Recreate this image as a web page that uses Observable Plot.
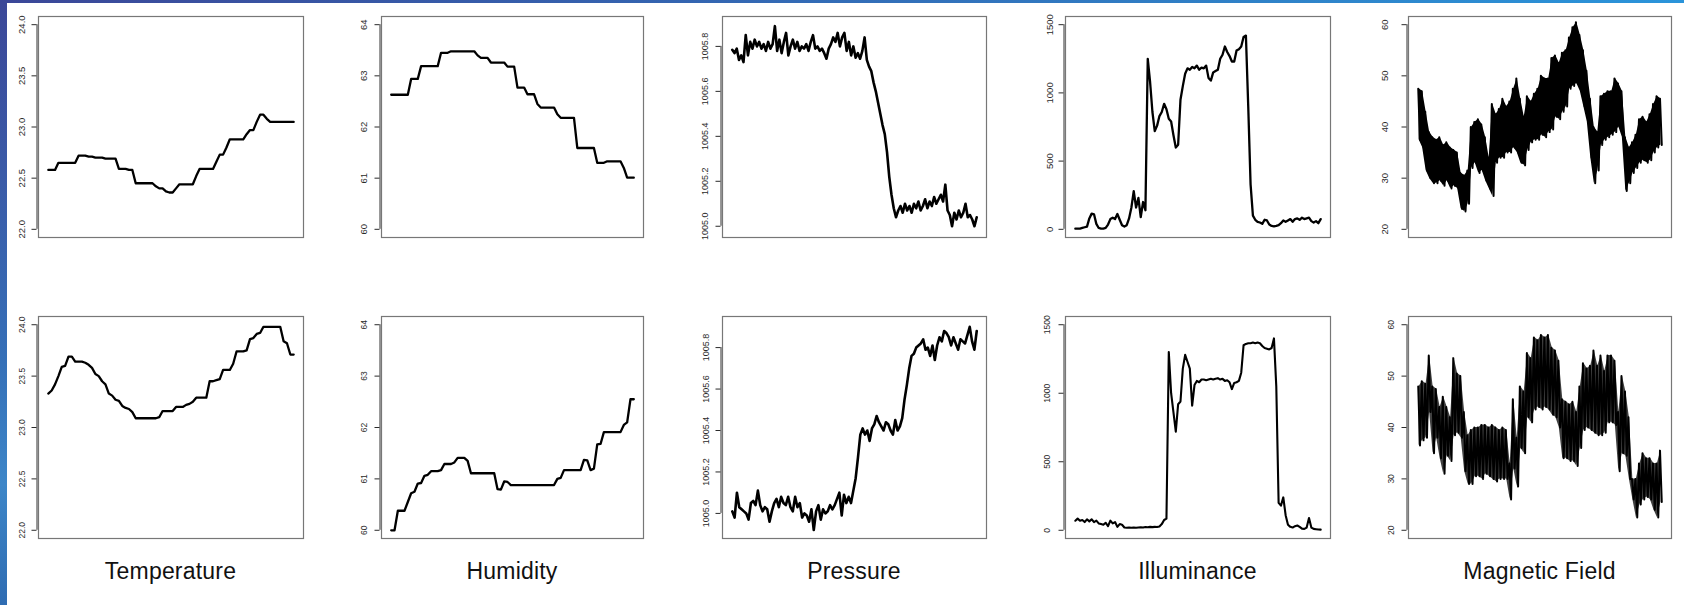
<!DOCTYPE html>
<html>
<head>
<meta charset="utf-8">
<script src="https://cdn.jsdelivr.net/npm/d3@7"></script>
<script src="https://cdn.jsdelivr.net/npm/@observablehq/plot@0.6"></script>
<style>
  html, body { margin: 0; padding: 0; background: #fff; }
  #page { position: relative; width: 1684px; height: 605px; overflow: hidden; background: #fff;
          font-family: "Liberation Sans", Arial, Helvetica, sans-serif; }
  #lstrip { position: absolute; left: 0; top: 0; width: 7px; height: 605px;
            background: linear-gradient(to bottom, #3b4798 0%, #3a5ba8 30%, #3570b8 60%, #3d86c8 80%, #2f6cb2 100%); }
  #tstrip { position: absolute; left: 0; top: 0; width: 1684px; height: 3px;
            background: linear-gradient(to right, #3b4798 0%, #3464b0 40%, #2f82c8 75%, #2a94da 100%); }
  .cap { position: absolute; top: 560px; font-size: 23px; line-height: 23px; color: #111;
         transform: translateX(-50%); white-space: nowrap; letter-spacing: 0.2px; }
</style>
</head>
<body>
<div id="page">
  <div id="lstrip"></div>
  <div id="tstrip"></div>
</div>
<script>
// ---------- data ----------
const captions = ["Temperature", "Humidity", "Pressure", "Illuminance", "Magnetic Field"];

// tick values per variable
const tempTicks = [22.0, 22.5, 23.0, 23.5, 24.0];
const humTicks = [60, 61, 62, 63, 64];
const presTicks = [1005.0, 1005.2, 1005.4, 1005.6, 1005.8];
const illumTicks = [0, 500, 1000, 1500];
const magTicks = [20, 30, 40, 50, 60];

// pressure axis limits (auto-ranged in the original)
const presTopLimits = [1004.950, 1005.933];
const presBotLimits = [1004.879, 1005.950];

const tempTop = [22.58,22.58,22.58,22.65,22.65,22.65,22.65,22.65,22.65,22.72,
 22.72,22.72,22.71,22.71,22.70,22.70,22.70,22.69,22.69,22.69,
 22.69,22.59,22.59,22.59,22.58,22.58,22.45,22.45,22.45,22.45,
 22.45,22.45,22.42,22.40,22.40,22.37,22.36,22.36,22.40,22.44,
 22.44,22.44,22.44,22.44,22.52,22.59,22.59,22.59,22.59,22.59,
 22.66,22.73,22.73,22.80,22.88,22.88,22.88,22.88,22.88,22.93,
 22.97,22.97,23.05,23.12,23.12,23.08,23.05,23.05,23.05,23.05,
 23.05,23.05,23.05,23.05];

const tempBot = [23.33,23.36,23.42,23.50,23.59,23.60,23.69,23.69,23.64,23.64,
 23.64,23.63,23.61,23.58,23.52,23.50,23.45,23.42,23.33,23.31,
 23.27,23.26,23.21,23.19,23.18,23.15,23.09,23.09,23.09,23.09,
 23.09,23.09,23.09,23.10,23.16,23.16,23.16,23.16,23.20,23.20,
 23.20,23.22,23.23,23.25,23.29,23.29,23.29,23.29,23.45,23.45,
 23.46,23.47,23.56,23.56,23.56,23.62,23.74,23.74,23.74,23.75,
 23.86,23.87,23.91,23.92,23.98,23.98,23.98,23.98,23.98,23.98,
 23.84,23.82,23.71,23.71];

const humTop = [62.63,62.63,62.63,62.63,62.63,62.63,62.94,62.94,62.94,63.19,
 63.19,63.19,63.19,63.19,63.19,63.45,63.45,63.45,63.48,63.48,
 63.48,63.48,63.48,63.48,63.48,63.48,63.40,63.35,63.35,63.35,
 63.26,63.26,63.26,63.26,63.26,63.18,63.18,63.18,62.77,62.77,
 62.77,62.64,62.64,62.64,62.45,62.38,62.38,62.38,62.38,62.38,
 62.25,62.18,62.18,62.18,62.18,62.18,61.59,61.59,61.59,61.59,
 61.59,61.59,61.30,61.30,61.30,61.33,61.33,61.33,61.33,61.33,
 61.20,61.01,61.01,61.01];

const humBot = [60.00,60.00,60.38,60.38,60.38,60.55,60.72,60.75,60.91,60.92,
 61.06,61.08,61.15,61.15,61.15,61.17,61.29,61.29,61.29,61.32,
 61.41,61.41,61.41,61.35,61.11,61.11,61.11,61.11,61.11,61.11,
 61.11,61.11,60.80,60.79,60.95,60.94,60.88,60.88,60.88,60.88,
 60.88,60.88,60.88,60.88,60.88,60.88,60.88,60.88,60.88,60.88,
 61.00,61.02,61.17,61.17,61.17,61.17,61.17,61.17,61.37,61.36,
 61.17,61.20,61.67,61.68,61.91,61.91,61.91,61.91,61.91,61.91,
 62.05,62.10,62.55,62.55];

const presTop = [1005.785,1005.77,1005.79,1005.74,1005.76,1005.73,1005.85,1005.76,1005.82,1005.79,
 1005.83,1005.80,1005.82,1005.79,1005.81,1005.78,1005.82,1005.79,1005.81,1005.89,
 1005.78,1005.83,1005.77,1005.82,1005.86,1005.76,1005.80,1005.83,1005.79,1005.82,
 1005.78,1005.80,1005.79,1005.81,1005.78,1005.82,1005.85,1005.79,1005.80,1005.78,
 1005.79,1005.77,1005.745,1005.79,1005.81,1005.84,1005.82,1005.86,1005.80,1005.84,
 1005.86,1005.78,1005.82,1005.76,1005.80,1005.75,1005.77,1005.745,1005.78,1005.84,
 1005.74,1005.71,1005.69,1005.64,1005.60,1005.55,1005.50,1005.45,1005.41,1005.33,
 1005.22,1005.14,1005.08,1005.04,1005.07,1005.09,1005.06,1005.10,1005.07,1005.09,
 1005.06,1005.10,1005.08,1005.11,1005.07,1005.09,1005.12,1005.08,1005.11,1005.09,
 1005.13,1005.10,1005.12,1005.14,1005.11,1005.185,1005.07,1005.05,1005.00,1005.06,
 1005.03,1005.07,1005.04,1005.06,1005.10,1005.04,1005.05,1005.03,1005.00,1005.04];

const presBot = [1005.01,1004.98,1005.10,1005.03,1005.02,1005.01,1005.00,1004.97,1005.05,1005.06,
 1005.04,1005.11,1005.04,1005.01,1005.03,1005.02,1004.96,1005.01,1005.05,1005.07,
 1005.03,1005.08,1005.05,1005.04,1005.08,1005.03,1005.01,1005.08,1005.03,1005.05,
 1004.98,1005.00,1004.99,1004.96,1005.02,1004.92,1005.01,1005.04,1004.97,1005.02,
 1005.00,1005.01,1005.04,1005.02,1005.04,1005.07,1005.10,1004.99,1005.09,1005.05,
 1005.08,1005.05,1005.11,1005.17,1005.27,1005.38,1005.41,1005.38,1005.40,1005.35,
 1005.41,1005.43,1005.47,1005.44,1005.42,1005.40,1005.44,1005.43,1005.40,1005.38,
 1005.45,1005.40,1005.42,1005.46,1005.55,1005.62,1005.70,1005.76,1005.77,1005.80,
 1005.81,1005.82,1005.84,1005.79,1005.80,1005.76,1005.81,1005.74,1005.81,1005.85,
 1005.83,1005.88,1005.87,1005.85,1005.81,1005.85,1005.82,1005.79,1005.84,1005.83,
 1005.82,1005.86,1005.90,1005.83,1005.79,1005.88];

const illumTop = [5,5,5,10,15,20,80,115,110,40,
 10,5,5,10,35,75,85,75,112,70,
 30,20,30,80,160,280,160,230,90,200,
 140,1250,1080,860,720,760,830,860,920,880,
 810,790,690,600,620,950,1050,1140,1180,1170,
 1190,1180,1200,1170,1185,1180,1200,1110,1090,1150,
 1160,1170,1250,1280,1340,1300,1270,1230,1230,1310,
 1320,1340,1410,1420,900,330,100,70,55,50,
 40,70,65,35,25,22,25,30,45,65,
 55,65,75,55,75,80,70,85,75,80,
 85,60,50,60,45,75];

const illumBot = [70,85,70,75,60,80,65,80,60,70,
 50,45,40,55,30,70,50,60,25,45,
 40,20,18,20,18,20,18,20,22,20,
 24,22,25,23,25,24,28,45,75,85,
 1300,1000,860,720,920,940,1180,1280,1230,1180,
 910,1060,1090,1080,1100,1100,1095,1100,1105,1100,
 1105,1110,1100,1105,1090,1095,1080,1030,1075,1080,
 1090,1150,1350,1360,1365,1365,1370,1365,1370,1365,
 1345,1330,1325,1320,1330,1400,1050,200,180,240,
 110,40,25,20,30,35,25,12,10,20,
 90,20,10,8,6,5];

// magnetic field: alternating high / low readings of the dense oscillation
const magTop = [47.5,37.5, 47,36, 43,31.5, 39,30, 38,29, 37.5,29, 38,29.5, 36.5,28.5, 37,29.5, 36,28,
 35.5,28.5, 35,28, 31,24, 30.5,23.5, 31.5,25, 40,32, 41,33, 41.5,31, 40.5,31.5, 38,29.5,
 34,28, 44.5,26.5, 42.5,33, 43.5,34, 45.5,34, 44,35, 45,35, 47.5,36, 49.5,35, 45.5,33,
 42,32.5, 46,35.5, 45,37, 46.5,37.5, 47.5,37.5, 50,38.5, 49.5,38, 49.5,39, 53.5,39.5, 54,42,
 52.5,41.5, 54.5,43, 55,44, 57.5,47.5, 59.5,48, 60.5,48.5, 58,47, 55,44, 51,41, 45.5,34,
 40,29, 39,31.5, 46,36.5, 46.5,37.5, 47,38, 47,38.5, 49.5,39, 48.5,40, 47,38, 38,27.5,
 36,29, 37,31, 38.5,32, 41.5,33, 42,33.5, 41,33, 42.5,33.5, 44.5,35, 46,36, 45.5,36.5];

const magBot = [48,36.5, 49,37.5, 48.5,38, 54,43, 48,35, 47.5,38, 44,34, 46,31, 44,34.5, 42,33.5,
 53.5,38.5, 50.5,39, 50,38, 43,31.5, 38.5,29, 39.5,29, 40,30.5, 40,30.5, 40.5,30, 40.5,31,
 40,30.5, 40.5,30, 40,29.5, 39.5,30, 40,30, 39.5,30, 33,26, 45.5,32, 38,28.5, 48,36,
 47,35, 54.5,42, 53.5,41, 57.5,43.5, 57,44, 58,43.5, 57.5,44, 58,43.5, 55.5,42.5, 55,42,
 53,40, 45.5,34, 45,34, 44.5,33.5, 45,33.5, 43,32.5, 48,36, 52.5,39.5, 51.5,40, 52,39.5,
 55,39, 52,38.5, 54,38.5, 51,39, 54,41, 54,41, 53,40.5, 43,31.5, 50,35, 47,34.5,
 42,30, 30,26, 30,22.5, 33,25, 35,26, 34,26.5, 34,26, 33,24, 33,22.5, 35.5,25.5];

// ---------- layout ----------
const colBoxes = [[38, 303], [381, 643], [722, 986], [1065, 1330], [1408, 1671]];
const rowBoxes = [[16, 237], [316, 538]];

const panels = [
  {row: 0, col: 0, values: tempTop, ticks: tempTicks, fmt: ".1f", off: 17, fs: 9.5, sw: 2.3},
  {row: 0, col: 1, values: humTop, ticks: humTicks, fmt: "d", off: 18, fs: 9.5, sw: 2.3},
  {row: 0, col: 2, values: presTop, ticks: presTicks, fmt: ".1f", off: 17, fs: 9, sw: 2.6, domain: presTopLimits},
  {row: 0, col: 3, values: illumTop, ticks: illumTicks, fmt: "d", off: 16, fs: 9.5, sw: 2.3},
  {row: 0, col: 4, values: magTop, ticks: magTicks, fmt: "d", off: 24, fs: 9.5, sw: 2, band: 1},
  {row: 1, col: 0, values: tempBot, ticks: tempTicks, fmt: ".1f", off: 16, fs: 8.5, sw: 2.3},
  {row: 1, col: 1, values: humBot, ticks: humTicks, fmt: "d", off: 17.5, fs: 8.5, sw: 2.3},
  {row: 1, col: 2, values: presBot, ticks: presTicks, fmt: ".1f", off: 16, fs: 9, sw: 2.6, domain: presBotLimits},
  {row: 1, col: 3, values: illumBot, ticks: illumTicks, fmt: "d", off: 18, fs: 8.5, sw: 2.1},
  {row: 1, col: 4, values: magBot, ticks: magTicks, fmt: "d", off: 17, fs: 8.5, sw: 2, band: 0.75}
];

const page = document.getElementById("page");

for (const p of panels) {
  const [bx0, bx1] = colBoxes[p.col];
  const [by0, by1] = rowBoxes[p.row];
  const ml = 44, mr = 4, mt = 4, mb = 4;
  const n = p.values.length;
  const pad = 0.04 * (n - 1);
  const data = p.values.map((v, i) => ({i, v}));
  const tlo = d3.min(p.ticks), thi = d3.max(p.ticks);
  const domain = p.domain || [tlo - 0.04 * (thi - tlo), thi + 0.04 * (thi - tlo)];
  const tickSize = 5;
  const shift = -1.5;
  const marks = [
    Plot.frame({stroke: "#777", strokeWidth: 1.2}),
    Plot.ruleX([{x: -pad, y1: tlo, y2: thi}], {x: "x", y1: "y1", y2: "y2", dx: shift, stroke: "#333", strokeWidth: 1}),
    Plot.axisY({
      ticks: p.ticks, tickSize, tickFormat: p.fmt, tickRotate: -90,
      textAnchor: "middle", lineAnchor: "middle",
      tickPadding: p.off - tickSize + shift, dx: shift,
      fontSize: p.fs, color: "#2a2a2a", label: null
    })
  ];
  if (p.band) {
    // band spanned by each high/low pair of the oscillating signal
    const band = d3.range(0, n, 2).map(k => ({x: k + 0.5, hi: p.values[k], lo: p.values[k + 1]}));
    marks.push(Plot.areaY(band, {x: "x", y1: "lo", y2: "hi", fill: "#000", fillOpacity: p.band}));
  }
  marks.push(Plot.lineY(data, {x: "i", y: "v", stroke: "#000", strokeWidth: p.sw,
                               strokeLinejoin: "round", strokeLinecap: "round"}));
  const chart = Plot.plot({
    width: bx1 - bx0 + ml + mr,
    height: by1 - by0 + mt + mb,
    marginLeft: ml, marginRight: mr, marginTop: mt, marginBottom: mb,
    x: {domain: [-pad, n - 1 + pad], axis: null},
    y: {domain, axis: null},
    style: {background: "transparent", overflow: "visible",
            fontFamily: "'Liberation Sans', Arial, Helvetica, sans-serif"},
    marks
  });
  chart.style.position = "absolute";
  chart.style.left = (bx0 - ml) + "px";
  chart.style.top = (by0 - mt) + "px";
  page.appendChild(chart);
}

captions.forEach((c, k) => {
  const [bx0, bx1] = colBoxes[k];
  const d = document.createElement("div");
  d.className = "cap";
  d.textContent = c;
  d.style.left = ((bx0 + bx1) / 2) + "px";
  page.appendChild(d);
});
</script>
</body>
</html>
